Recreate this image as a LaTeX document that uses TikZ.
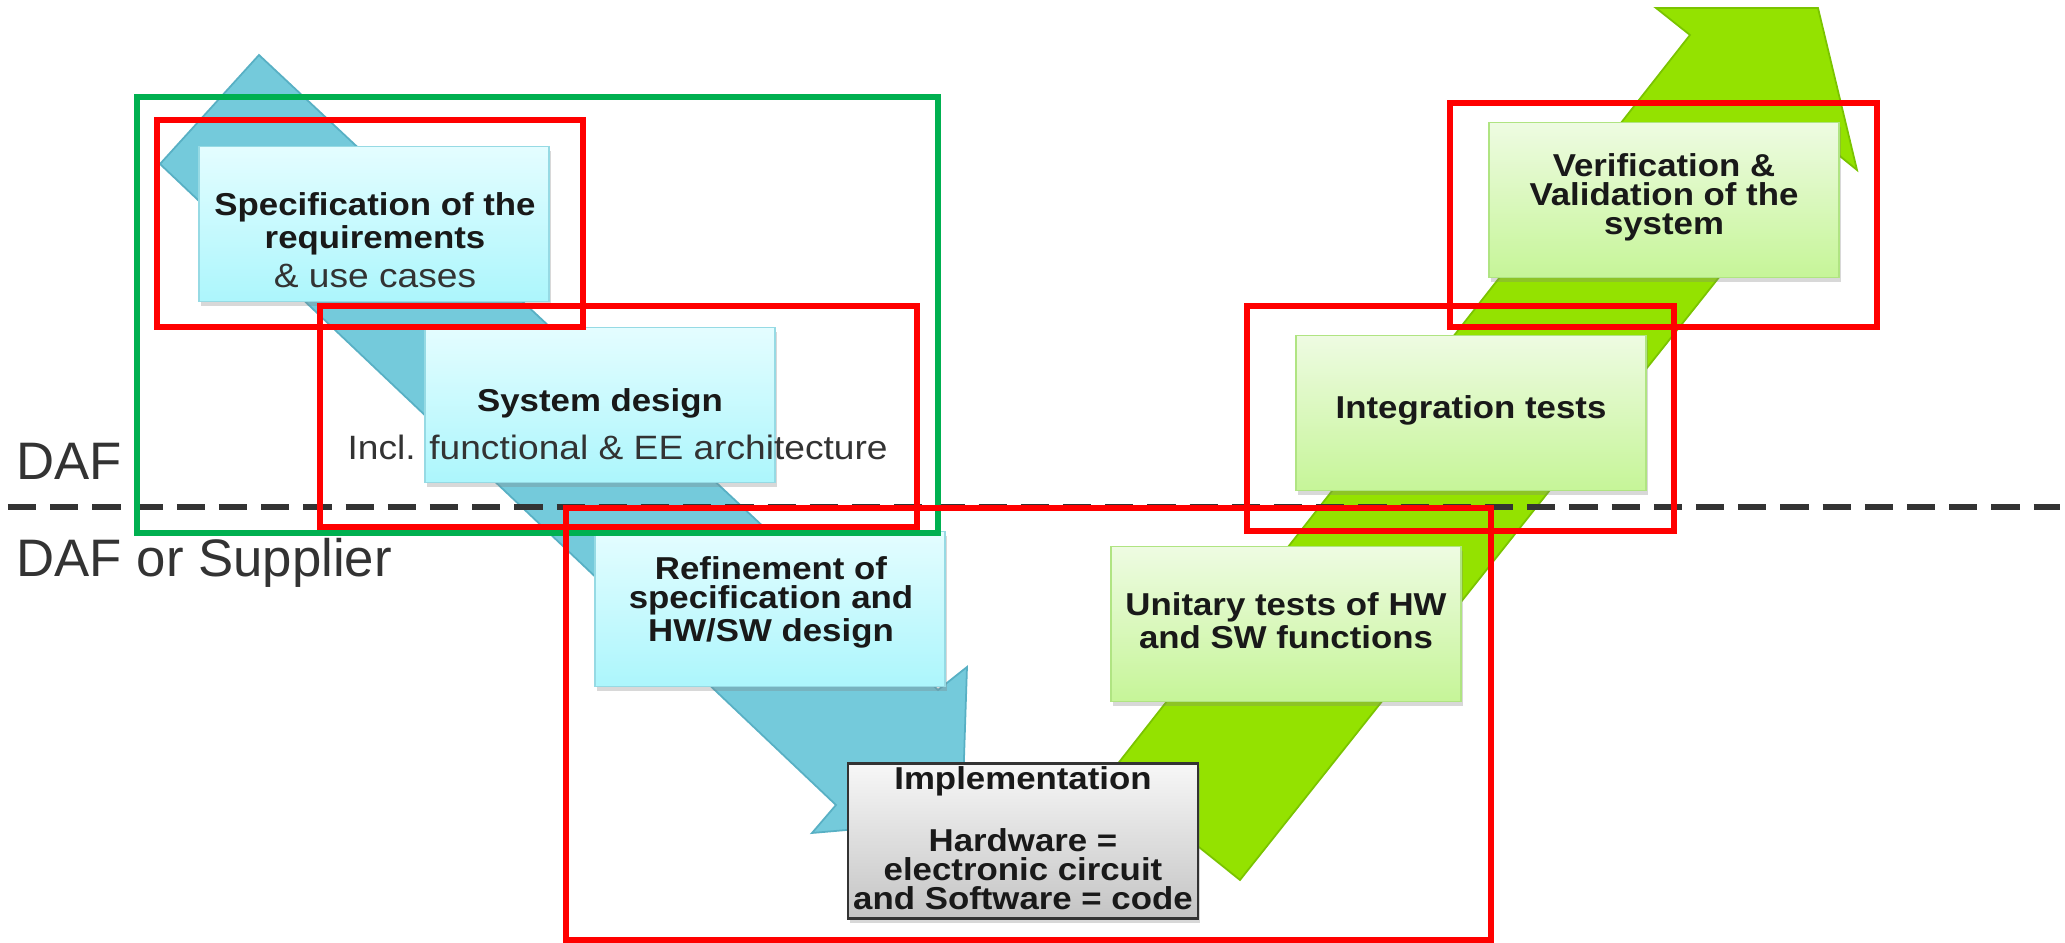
\documentclass[tikz,border=0pt]{standalone}
\usepackage{fontspec}
\setmainfont{Liberation Sans}
\newfontfamily\boxfont[FakeStretch=1.1]{Liberation Sans}
\usetikzlibrary{shadows}

\definecolor{bandblue}{RGB}{116,202,219}
\definecolor{bandblueline}{RGB}{88,176,196}
\definecolor{bandgreen}{RGB}{148,226,0}
\definecolor{bandgreenline}{RGB}{122,196,0}
\definecolor{boxbluetop}{RGB}{228,253,255}
\definecolor{boxbluebot}{RGB}{172,246,252}
\definecolor{boxblueline}{RGB}{150,218,228}
\definecolor{boxgreentop}{RGB}{238,251,226}
\definecolor{boxgreenbot}{RGB}{198,245,152}
\definecolor{boxgreenline}{RGB}{176,228,130}
\definecolor{impltop}{RGB}{247,247,247}
\definecolor{implbot}{RGB}{196,196,196}
\definecolor{txtgray}{RGB}{51,51,51}
\definecolor{framered}{RGB}{255,0,0}
\definecolor{framegreen}{RGB}{0,176,80}

\newcommand\subline[1]{{\mdseries\fontsize{9.6}{10}\selectfont\color{txtgray}#1}}

\begin{document}
\begin{tikzpicture}
  [x=0.01cm, y=-0.01cm,
    every node/.style={inner sep=0pt},
    box/.style={rectangle, minimum width=3.5cm, minimum height=1.55cm, line width=0.4pt,
      drop shadow={shadow xshift=0.6pt, shadow yshift=-1.2pt, opacity=0.3}},
    bluebox/.style={box, draw=boxblueline, top color=boxbluetop, bottom color=boxbluebot},
    greenbox/.style={box, draw=boxgreenline, top color=boxgreentop, bottom color=boxgreenbot},
    implbox/.style={box, draw=txtgray, line width=0.7pt, top color=impltop, bottom color=implbot},
    boxtext/.style={align=center, text=black!90, font=\boxfont\fontsize{9}{8.2}\selectfont\bfseries},
    side/.style={anchor=base west, text=txtgray, font=\fontsize{15}{18}\selectfont},
    redframe/.style={draw=framered, line width=1.6pt},
    greenframe/.style={draw=framegreen, line width=1.6pt},
    dashline/.style={draw=txtgray, line width=1.7pt, dash pattern=on 8pt off 4pt},
  ]
  \path[fill=white, use as bounding box] (0,0) rectangle (2065,943);

  \filldraw[fill=bandblue, draw=bandblueline, line width=0.5pt]
    (259,55) -- (938,690) -- (967,667) -- (962,820) -- (812,833) -- (836,805) -- (160,164) -- cycle;
  \filldraw[fill=bandgreen, draw=bandgreenline, line width=0.5pt]
    (1240,880) -- (1825,144) -- (1857,170) -- (1818,8) -- (1656,8) -- (1690,35) -- (1109,775) -- cycle;

  \node[bluebox] (spec) at (374,224) {};
  \node[bluebox] (sys) at (600,405) {};
  \node[bluebox] (refine) at (770,609) {};
  \node[implbox] (impl) at (1023,841) {};
  \node[greenbox] (unit) at (1286,624) {};
  \node[greenbox] (integ) at (1471,413) {};
  \node[greenbox] (verif) at (1664,200) {};

  \node[boxtext] (spec-txt) at (375,240) {Specification of the\\requirements\\[1.5pt]\subline{\& use cases}};
  \node[boxtext] (sys-txt) at (600,424) {System design\\[3.8pt]\subline{\makebox[0pt]{\hspace{10pt}Incl. functional \& EE architecture}}};
  \node[boxtext] (refine-txt) at (771,602) {Refinement of\\specification and\\HW/SW design};
  \node[boxtext] (impl-txt) at (1023,838) {Implementation\\[8.2pt]Hardware =\\electronic circuit\\and Software = code};
  \node[boxtext] (unit-txt) at (1286,621) {Unitary tests of HW\\and SW functions};
  \node[boxtext] (integ-txt) at (1471,410) {Integration tests};
  \node[boxtext] (verif-txt) at (1664,197) {Verification \&\\Validation of the\\system};

  \node[side] (daf) at (16,480) {DAF};
  \node[side] (dafsup) at (16,577) {DAF or Supplier};
  \coordinate (dashL) at (8,507);
  \coordinate (dashR) at (2060,507);
  \draw[dashline] (dashL) -- (dashR);

  \draw[greenframe] (137,97) rectangle (938,533);
  \draw[redframe] (157,120) rectangle (583,327);
  \draw[redframe] (320,306) rectangle (917,527);
  \draw[redframe] (566,508) rectangle (1491,940);
  \draw[redframe] (1247,306) rectangle (1674,531);
  \draw[redframe] (1450,103) rectangle (1877,327);
\end{tikzpicture}
\end{document}
